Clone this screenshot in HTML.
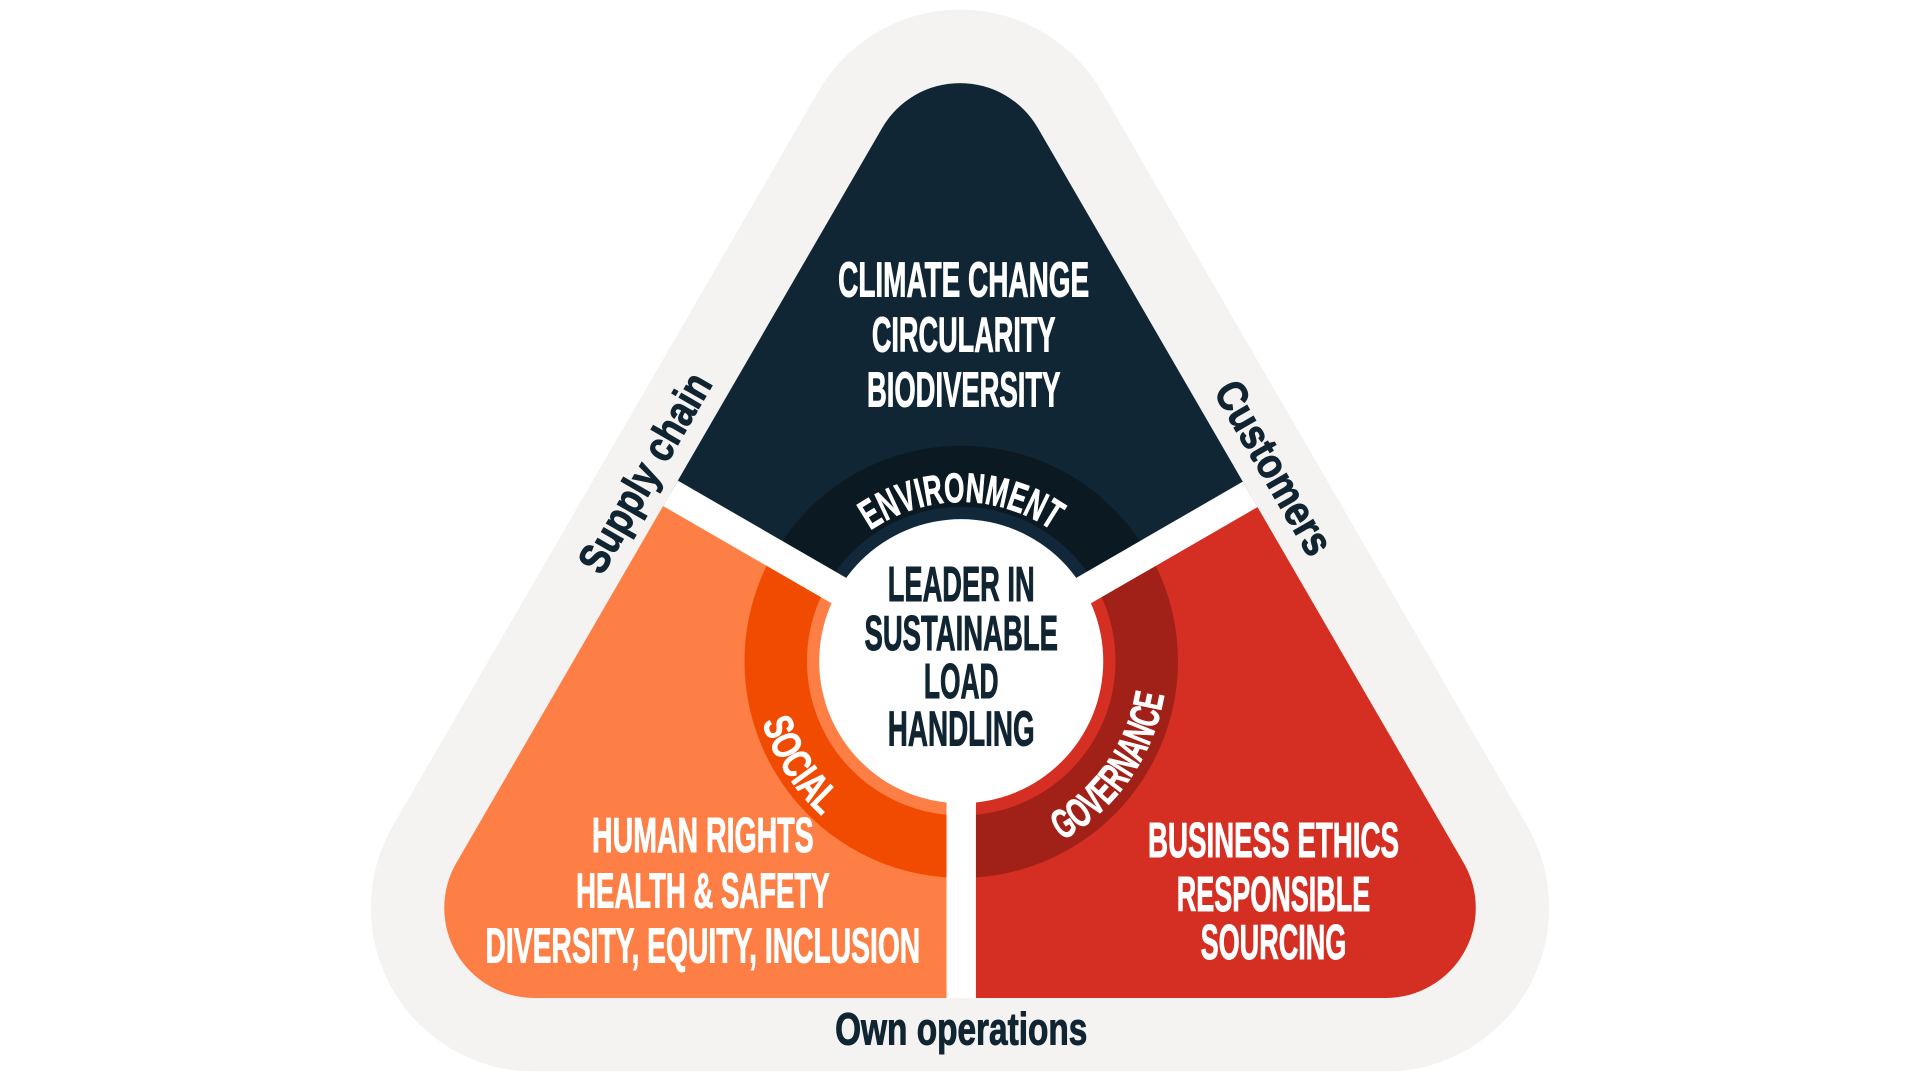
<!DOCTYPE html>
<html><head><meta charset="utf-8"><style>
html,body{margin:0;padding:0;background:#fff;width:1920px;height:1080px;overflow:hidden}
svg{display:block}
.b{font-family:"Liberation Sans Narrow","Liberation Sans",sans-serif;font-weight:bold}
</style></head><body>
<svg width="1920" height="1080" viewBox="0 0 1568 882" preserveAspectRatio="none" xmlns="http://www.w3.org/2000/svg">
<defs>
<path id="tri" d="M720.4,104.5 A73.5 73.5 0 0 1 847.6,104.5 L1195.5,705 A73.5 73.5 0 0 1 1132,815 L436,815 A73.5 73.5 0 0 1 372.5,705 Z"/>
<clipPath id="ct"><use href="#tri"/></clipPath>
<clipPath id="cd"><polygon points="785,540 -254,-60 -254,-1000 1824,-1000 1824,-60"/></clipPath>
<clipPath id="co"><polygon points="785,540 -254,-60 -254,1500 785,1500"/></clipPath>
<clipPath id="cr"><polygon points="785,540 785,1500 1824,1500 1824,-60"/></clipPath>
<path id="pe" d="M655,540 A130 130 0 0 1 915,540"/>
<path id="ps" d="M622.9,488.9 A170 170 0 0 0 762.8,708.5"/>
<path id="pg" d="M799.6,707.4 A168 168 0 0 0 947.3,496.5"/>
</defs>
<rect width="1568" height="882" fill="#fff"/>
<use href="#tri" fill="#f4f3f1" stroke="#f4f3f1" stroke-width="120" stroke-linejoin="round"/>
<g clip-path="url(#ct)">
  <g clip-path="url(#cd)">
    <rect x="0" y="0" width="1568" height="882" fill="#112634"/>
    <circle cx="785" cy="540" r="176" fill="#0b1922"/>
    <circle cx="785" cy="540" r="126" fill="#10283a"/>
  </g>
  <g clip-path="url(#co)">
    <rect x="0" y="0" width="1568" height="882" fill="#fd7f45"/>
    <circle cx="785" cy="540" r="177" fill="#f04b00"/>
    <circle cx="785" cy="540" r="126" fill="#fd7f45"/>
  </g>
  <g clip-path="url(#cr)">
    <rect x="0" y="0" width="1568" height="882" fill="#d52e22"/>
    <circle cx="785" cy="540" r="177" fill="#a12018"/>
    <circle cx="785" cy="540" r="126" fill="#d52e22"/>
  </g>
  <g stroke="#fff" stroke-width="24">
    <line x1="785" y1="540" x2="785" y2="1000"/>
    <line x1="785" y1="540" x2="-254" y2="-60"/>
    <line x1="785" y1="540" x2="1824" y2="-60"/>
  </g>
</g>
<circle cx="785" cy="540" r="116" fill="#fff"/>

<g class="b" fill="#fff" stroke="#fff" stroke-width="0.8" font-size="40" text-anchor="middle">
  <text x="787" y="242" textLength="205" lengthAdjust="spacingAndGlyphs">CLIMATE CHANGE</text>
  <text x="787" y="287" textLength="150" lengthAdjust="spacingAndGlyphs">CIRCULARITY</text>
  <text x="787" y="332" textLength="158" lengthAdjust="spacingAndGlyphs">BIODIVERSITY</text>
  <text x="574" y="696" textLength="181" lengthAdjust="spacingAndGlyphs">HUMAN RIGHTS</text>
  <text x="574" y="741" textLength="207" lengthAdjust="spacingAndGlyphs">HEALTH &amp; SAFETY</text>
  <text x="574" y="786" textLength="355" lengthAdjust="spacingAndGlyphs">DIVERSITY, EQUITY, INCLUSION</text>
  <text x="1040" y="700" textLength="205" lengthAdjust="spacingAndGlyphs">BUSINESS ETHICS</text>
  <text x="1040" y="744" textLength="158" lengthAdjust="spacingAndGlyphs">RESPONSIBLE</text>
  <text x="1040" y="783" textLength="119" lengthAdjust="spacingAndGlyphs">SOURCING</text>
</g>
<g class="b" fill="#102432" stroke="#102432" stroke-width="0.8" font-size="40" text-anchor="middle">
  <text x="785" y="491" textLength="120" lengthAdjust="spacingAndGlyphs">LEADER IN</text>
  <text x="785" y="531" textLength="158" lengthAdjust="spacingAndGlyphs">SUSTAINABLE</text>
  <text x="785" y="570" textLength="61" lengthAdjust="spacingAndGlyphs">LOAD</text>
  <text x="785" y="609" textLength="120" lengthAdjust="spacingAndGlyphs">HANDLING</text>
  <text x="785" y="853" font-size="37" textLength="206" lengthAdjust="spacingAndGlyphs">Own operations</text>
  <text transform="translate(537,392) rotate(-60)" font-size="35" textLength="182" lengthAdjust="spacingAndGlyphs">Supply chain</text>
  <text transform="translate(1030,388) rotate(60)" font-size="35" textLength="158" lengthAdjust="spacingAndGlyphs">Customers</text>
</g>
<g class="b" fill="#fff" stroke="#fff" stroke-width="0.6" font-size="34" text-anchor="middle">
  <text><textPath href="#pe" startOffset="50%" textLength="158" lengthAdjust="spacingAndGlyphs">ENVIRONMENT</textPath></text>
  <text><textPath href="#ps" startOffset="50%" textLength="92" lengthAdjust="spacingAndGlyphs">SOCIAL</textPath></text>
  <text><textPath href="#pg" startOffset="50%" textLength="150" lengthAdjust="spacingAndGlyphs">GOVERNANCE</textPath></text>
</g>
</svg>
</body></html>
